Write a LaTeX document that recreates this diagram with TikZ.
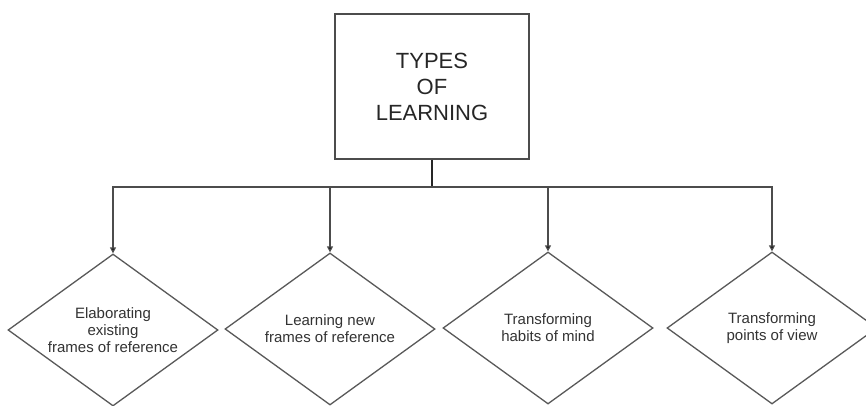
\documentclass[tikz,border=0pt]{standalone}
\usepackage{fontspec}
\setmainfont{Liberation Sans}
\usetikzlibrary{shapes.geometric,arrows.meta}
\begin{document}
\begin{tikzpicture}[x=1pt,y=-1pt,
  line/.style={draw=black!70,line width=1.3pt},
  conn/.style={line,-{Triangle[length=6pt,width=6pt,fill=black]}},
  choice/.style={diamond,draw=black!65,line width=1.3pt,minimum width=210pt,minimum height=152pt,inner sep=0pt},
  choicetext/.style={align=center,inner sep=0pt,font=\fontsize{15}{17}\selectfont,text=black!80},
  title/.style={rectangle,draw=black!70,line width=1.3pt,minimum width=194pt,minimum height=145pt,inner sep=0pt,
     align=center,font=\fontsize{22}{26}\selectfont,text=black!85}]
\useasboundingbox (0,0) rectangle (866,406);
\clip (0,0) rectangle (866,406);
\fill[white] (0,0) rectangle (866,406);
\node[title] (t) at (432,86.5) {TYPES\\OF\\LEARNING};
\coordinate (j) at (432,187);
\node[choice] (d1) at (113,330) {};
\node[choice] (d2) at (330,329) {};
\node[choice] (d3) at (548,328) {};
\node[choice] (d4) at (772,328) {};
\node[choicetext] (l1) at (d1.center) {Elaborating\\existing\\frames of reference};
\node[choicetext] (l2) at (d2.center) {Learning new\\frames of reference};
\node[choicetext] (l3) at (d3.center) {Transforming\\habits of mind};
\node[choicetext] (l4) at (d4.center) {Transforming\\points of view};
\draw[line,draw=black!85,line width=2pt] (t.south) -- (j);
\draw[conn] (j) -| (d1.north);
\draw[conn] (j) -| (d2.north);
\draw[conn] (j) -| (d3.north);
\draw[conn] (j) -| (d4.north);
\end{tikzpicture}
\end{document}
